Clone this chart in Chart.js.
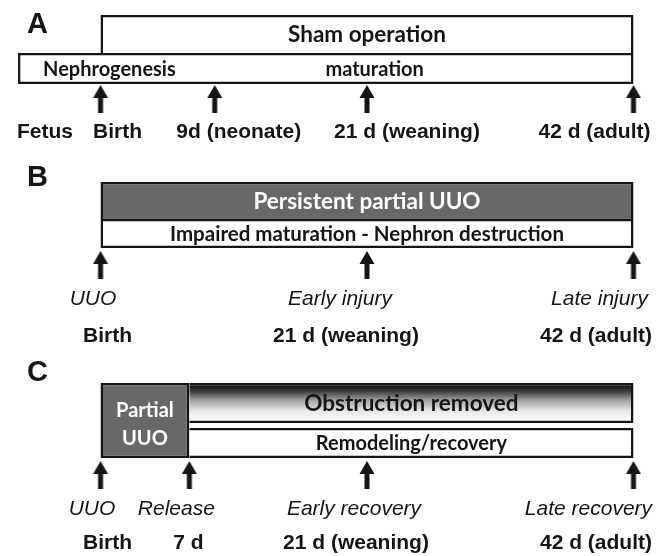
<!DOCTYPE html>
<html>
<head>
<meta charset="utf-8">
<script src="https://cdn.jsdelivr.net/npm/chart.js@4.4.1/dist/chart.umd.min.js"></script>
<style>
  html, body { margin: 0; padding: 0; background: #fff; }
  #wrap { width: 668px; height: 556px; }
</style>
</head>
<body>
<div id="wrap"><canvas id="timeline" width="668" height="556"></canvas></div>
<script>
// ---- data: all x values are days after birth ----
const panelLetters = ['A', 'B', 'C'];

// A - sham operation
const shamBoxes = [[0, 42], [-6.5, 42]];
const shamBoxLabels = ['Sham operation', ''];
const shamPhaseLabels = ['Nephrogenesis', 'maturation'];
const shamPhaseDays = [0.7, 21.6];
const shamArrowDays = [0, 9, 21, 42];
const shamTimeDays = [-6.5, 0, 9, 21, 42];
const shamTimeLabels = ['Fetus', 'Birth', '9d (neonate)', '21 d (weaning)', '42 d (adult)'];

// B - persistent partial UUO
const uuoBoxes = [[0, 42], [0, 42]];
const uuoBoxLabels = ['Persistent partial UUO', 'Impaired maturation - Nephron destruction'];
const uuoArrowDays = [0, 21, 42];
const uuoEvents = ['UUO', 'Early injury', 'Late injury'];
const uuoTimeLabels = ['Birth', '21 d (weaning)', '42 d (adult)'];

// C - release of obstruction
const relBoxes = [[0, 7], [7, 42], [7, 42]];
const relBoxLabels = [['Partial', 'UUO'], 'Obstruction removed', 'Remodeling/recovery'];
const relArrowDays = [0, 7, 21, 42];
const relEvents = ['UUO', 'Release', 'Early recovery', 'Late recovery'];
const relTimeLabels = ['Birth', '7 d', '21 d (weaning)', '42 d (adult)'];

// ---- layout (pixels) ----
const INK = '#151515';
const GREY = '#686868';
const BW = 2.5;
const LABEL_FONT = '"Liberation Sans", Arial, sans-serif';
const BOX_FONT = 'Lato, "Open Sans", sans-serif';

const letterY = [33, 186, 381];
const arrowTips = [85, 251, 461];
const ARROW_H = 28;

//boxes: days come from the data arrays, rows are the vertical bands
const boxes = [
  { days: shamBoxes[0], row: [15, 53], fill: '#fff', label: shamBoxLabels[0], size: 22.5, sides: { bottom: 0 } },
  { days: shamBoxes[1], row: [53, 84], fill: '#fff', label: shamBoxLabels[1] },
  { days: uuoBoxes[0], row: [182, 219], fill: GREY, label: uuoBoxLabels[0], size: 22.5, color: '#fff', sides: { bottom: 0 } },
  { days: uuoBoxes[1], row: [219, 248], fill: '#fff', label: uuoBoxLabels[1], size: 20.5 },
  { days: relBoxes[0], row: [383, 458], fill: GREY, label: relBoxLabels[0], color: '#fff', dy: 3 },
  { days: relBoxes[1], row: [383, 423], fill: 'gradient', label: relBoxLabels[1], size: 22.5, sides: { left: 0 } },
  { days: relBoxes[2], row: [428, 458], fill: '#fff', label: relBoxLabels[2], sides: { left: 0 } },
];

// label rows under the arrows: anchor days + small pixel nudges
const labelRows = [
  { texts: shamTimeLabels, days: shamTimeDays, dx: [27, 17, 24, 40, -39], y: 138, style: 'bold' },
  { texts: uuoEvents, days: uuoArrowDays, dx: [-7.5, -27, -34], y: 305, style: 'italic' },
  { texts: uuoTimeLabels, days: uuoArrowDays, dx: [7, -21, -37.5], y: 342, style: 'bold' },
  { texts: relEvents, days: relArrowDays, dx: [-8.5, -13, -13, -45], y: 515, style: 'italic' },
  { texts: relTimeLabels, days: relArrowDays, dx: [7, -1, -11, -37.5], y: 549, style: 'bold' },
];

//up arrow used as point style
function makeArrow() {
  const c = document.createElement('canvas');
  c.width = 16;
  c.height = ARROW_H;
  const g = c.getContext('2d');
  g.fillStyle = INK;
  g.beginPath();
  g.moveTo(8, 0);
  g.lineTo(15.5, 13);
  g.lineTo(10.5, 13);
  g.lineTo(10.5, ARROW_H);
  g.lineTo(5.5, ARROW_H);
  g.lineTo(5.5, 13);
  g.lineTo(0.5, 13);
  g.closePath();
  g.fill();
  return c;
}
const arrowImg = makeArrow();

function obstructionGradient(context, row) {
  const chart = context.chart;
  if (!chart.chartArea) return '#fff';
  const y = chart.scales.y;
  const g = chart.ctx.createLinearGradient(0, y.getPixelForValue(row[0]), 0, y.getPixelForValue(row[1]));
  g.addColorStop(0, '#000');
  g.addColorStop(0.2, '#3a3a3a');
  g.addColorStop(0.45, '#a8a8a8');
  g.addColorStop(0.7, '#e8e8e8');
  g.addColorStop(1, '#fff');
  return g;
}

const boxDatasets = boxes.map(b => {
  const bw = Object.assign({ top: BW, right: BW, bottom: BW, left: BW }, b.sides || {});
  return {
    type: 'bar',
    indexAxis: 'y',
    stack: 'timeline',
    data: [{ x: b.days, y: (b.row[0] + b.row[1]) / 2 }],
    barThickness: b.row[1] - b.row[0],
    backgroundColor: b.fill === 'gradient' ? ctx => obstructionGradient(ctx, b.row) : b.fill,
    borderColor: INK,
    borderWidth: bw,
    borderSkipped: false,
    inflateAmount: 0,
  };
});

//each arrow row gets its own stack so the y values are not summed
const arrowDatasets = [shamArrowDays, uuoArrowDays, relArrowDays].map((days, i) => ({
  type: 'scatter',
  stack: 'arrows' + i,
  data: days.map(d => ({ x: d, y: arrowTips[i] + ARROW_H / 2 })),
  pointStyle: arrowImg,
  radius: 8,
}));

//text: panel letters, box captions, phase names and time labels
const textPlugin = {
  id: 'timelineText',
  afterDatasetsDraw(chart) {
    const { ctx } = chart;
    const xs = chart.scales.x;
    const ys = chart.scales.y;
    ctx.save();
    ctx.textBaseline = 'alphabetic';

    ctx.fillStyle = INK;
    ctx.font = 'bold 29px ' + LABEL_FONT;
    ctx.textAlign = 'left';
    panelLetters.forEach((l, i) => ctx.fillText(l, 27, letterY[i]));
    ctx.textAlign = 'center';

    boxes.forEach(b => {
      if (!b.label) return;
      const size = b.size || 20;
      ctx.font = 'bold ' + size + 'px ' + BOX_FONT;
      const cx = (xs.getPixelForValue(b.days[0]) + xs.getPixelForValue(b.days[1])) / 2;
      const cy = (ys.getPixelForValue(b.row[0]) + ys.getPixelForValue(b.row[1])) / 2 + (b.dy || 0);
      ctx.fillStyle = b.color || INK;
      const lines = Array.isArray(b.label) ? b.label : [b.label];
      const lh = 28;
      lines.forEach((t, i) => {
        const ly = cy + (i - (lines.length - 1) / 2) * lh + size * 0.36;
        ctx.fillText(t, cx, ly);
      });
    });

    ctx.fillStyle = INK;
    ctx.font = 'bold 20px ' + BOX_FONT;
    const lowRow = boxes[1].row;
    const lowCy = (ys.getPixelForValue(lowRow[0]) + ys.getPixelForValue(lowRow[1])) / 2;
    shamPhaseLabels.forEach((t, i) => {
      ctx.fillText(t, xs.getPixelForValue(shamPhaseDays[i]), lowCy + 20 * 0.36);
    });

    labelRows.forEach(r => {
      ctx.font = r.style + ' 21px ' + LABEL_FONT;
      r.texts.forEach((t, i) => {
        ctx.fillText(t, xs.getPixelForValue(r.days[i]) + r.dx[i], ys.getPixelForValue(r.y));
      });
    });
    ctx.restore();
  }
};

new Chart(document.getElementById('timeline'), {
  type: 'bar',
  data: { datasets: [...boxDatasets, ...arrowDatasets] },
  plugins: [textPlugin],
  options: {
    responsive: false,
    animation: false,
    events: [],
    layout: { padding: 0, autoPadding: false },
    plugins: {
      legend: { display: false },
      tooltip: { enabled: false },
    },
    scales: {
      x: { type: 'linear', display: false, offset: false, min: -7.92, max: 44.72, stacked: false },
      y: { type: 'linear', display: false, offset: false, reverse: true, min: 0, max: 556, stacked: true },
    },
  },
});
</script>
</body>
</html>
